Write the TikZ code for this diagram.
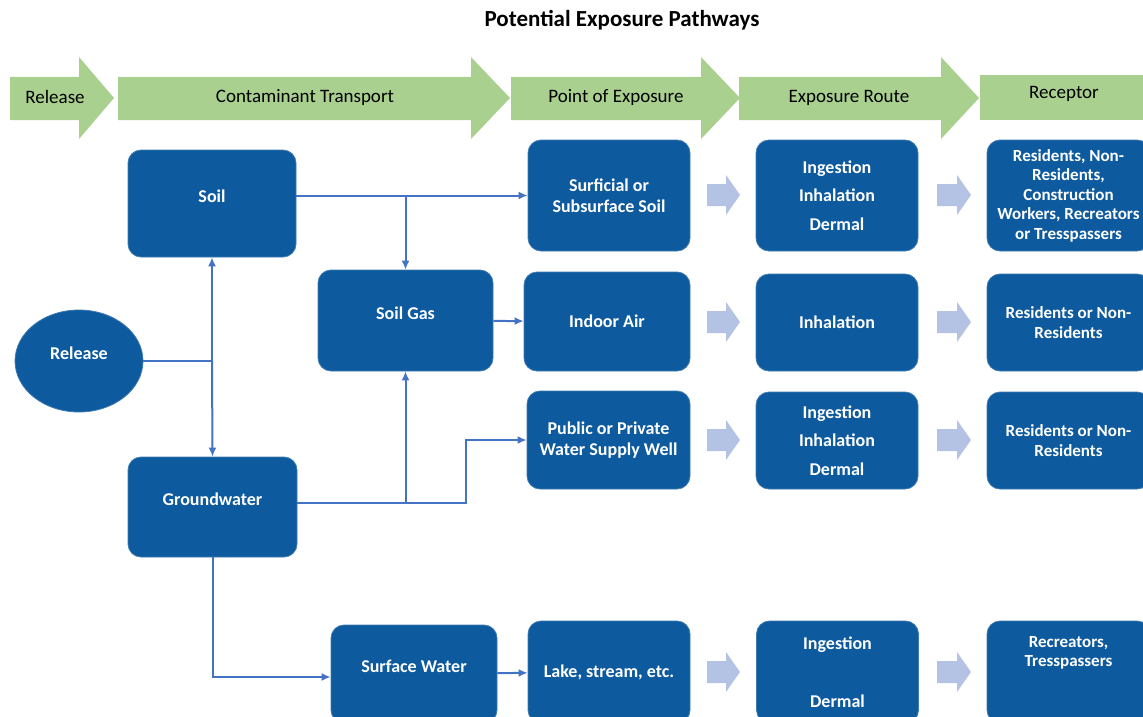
\documentclass[tikz,border=0pt]{standalone}
\usepackage{fontspec}
\setmainfont{Carlito}
\usetikzlibrary{
  arrows.meta,
  shapes.geometric,
  chains,
  positioning,
  scopes
}
\definecolor{boxblue}{RGB}{14,90,158}
\definecolor{lineblue}{RGB}{68,114,196}
\definecolor{stagegreen}{RGB}{169,208,142}
\definecolor{hintblue}{RGB}{180,194,228}

\begin{document}
\begin{tikzpicture}[
      x=1pt,y=-1pt,
      box/.style={
         rectangle,
         rounded corners=13pt,
         fill=boxblue,
         draw=boxblue!80!white,
         line width=.8pt,
         text=white,
         align=center,
         inner sep=0pt,
         font=\bfseries\fontsize{18}{21}\selectfont
      },
      release/.style={
         ellipse,
         fill=boxblue,
         draw=boxblue!80!white,
         line width=.8pt,
         text=white,
         inner sep=0pt,
         minimum width=128pt,
         minimum height=102pt,
         font=\bfseries\fontsize{18}{21}\selectfont
      },
      upper/.style={text depth=15pt},
      route/.style={
         box,
         minimum width=162pt,
         font=\bfseries\fontsize{18}{28.5}\selectfont
      },
      receptor/.style={
         box,
         minimum width=163pt,
         font=\bfseries\fontsize{17}{19.5}\selectfont
      },
      stage/.style={fill=stagegreen},
      stage label/.style={font=\fontsize{19}{23}\selectfont},
      hint/.style={fill=hintblue},
      link/.style={draw=lineblue, line width=2pt},
      >={Latex[length=9pt,width=8pt]},
      tip/.style={link,->},
      every join/.style={link}
    ]
  \useasboundingbox (0,0) rectangle (1143,717);
  \clip (0,0) rectangle (1143,717);

  \node (title) [font=\bfseries\fontsize{23}{28}\selectfont] at (622,20) {Potential Exposure Pathways};

  % green stage band
  \foreach \a/\b/\c in {10/79/114, 118/471/510, 511/701/740, 739/941/979}
    \fill[stage] (\a,77) -- (\b,77) -- (\b,57) -- (\c,98) -- (\b,139) -- (\b,120) -- (\a,120) -- cycle;
  \fill[stage] (980,75) rectangle (1150,120);
  \node (s1) [stage label] at (55,97) {Release};
  \node (s2) [stage label] at (305,97) {Contaminant Transport};
  \node (s3) [stage label] at (616,97) {Point of Exposure};
  \node (s4) [stage label] at (849,98) {Exposure Route};
  \node (s5) [stage label] at (1064,94) {Receptor};

  % sources and transport
  \node (n11) [release, upper] at (79,361) {Release};
  \node (n21) [box, upper, minimum width=168pt, minimum height=107pt] at (212,203.5) {Soil};
  \node (n22) [box, upper, minimum width=169pt, minimum height=100pt] at (212.5,507) {Groundwater};
  \node (n31) [box, upper, minimum width=175pt, minimum height=101pt] at (405.5,320.5) {Soil Gas};
  \node (n32) [box, upper, minimum width=166pt, minimum height=98pt] at (414,674) {Surface Water};

  % points of exposure
  \node (n41) [box, minimum width=162pt, minimum height=111pt] at (609,195.5) {Surficial or\\Subsurface Soil};
  \node (n42) [box, minimum width=166pt, minimum height=99pt] at (607,321.5) {Indoor Air};
  \node (n43) [box, minimum width=163pt, minimum height=98pt] at (608.5,440) {Public or Private\\Water Supply Well};
  \node (n44) [box, minimum width=162pt, minimum height=102pt] at (609,672) {Lake, stream, etc.};

  % exposure routes
  \node (n51) [route, minimum height=111pt] at (837,195.5) {Ingestion\\Inhalation\\Dermal};
  \node (n52) [route, minimum height=97pt] at (837,322.5) {Inhalation};
  \node (n53) [route, minimum height=97pt] at (837,440.5) {Ingestion\\Inhalation\\Dermal};
  \node (n54) [route, minimum height=102pt] at (837.5,672) {Ingestion\\[30pt]Dermal};

  % receptors
  \node (n61) [receptor, minimum height=111pt] at (1068.5,195.5) {Residents, Non-\\Residents,\\Construction\\Workers, Recreators\\or Tresspassers};
  \node (n62) [receptor, minimum height=97pt] at (1068.5,322.5) {Residents or Non-\\Residents};
  \node (n63) [receptor, minimum height=97pt] at (1068.5,440.5) {Residents or Non-\\Residents};
  \node (n64) [receptor, minimum height=102pt, text depth=41pt] at (1068.5,672) {Recreators,\\Tresspassers};

  % light arrows between columns
  \foreach \y in {195,322,440,672}
    \foreach \x/\l in {707/33, 937/34}
      \fill[hint] (\x,\y-11) -- (\x+\l-14,\y-11) -- (\x+\l-14,\y-20) -- (\x+\l,\y)
                  -- (\x+\l-14,\y+20) -- (\x+\l-14,\y+11) -- (\x,\y+11) -- cycle;

  % connectors
  \draw[link] (n11.east) -- (n21.south |- n11.east);
  \draw[tip] (n21.south |- n11.east) -- (n21.south);
  \draw[tip] (n21.south |- n11.east) -- (n22.north);
  \draw[tip] (n21.east |- n41.west) -- (n41.west);
  \draw[tip] (n31.north |- n41.west) -- (n31.north);
  \coordinate (g1) at ([yshift=4pt]n22.east);
  \draw[tip] (g1) -- ++(169,0) |- (n43.west);
  \draw[tip] (n31.south |- g1) -- (n31.south);
  \draw[tip] (n22.south) |- ([yshift=-3pt]n32.west);
  { [start chain]
       \chainin (n31);
       \chainin (n42)    [join=by tip];
  }
  { [start chain]
       \chainin (n32);
       \chainin (n44)    [join=by tip];
  }
\end{tikzpicture}
\end{document}
